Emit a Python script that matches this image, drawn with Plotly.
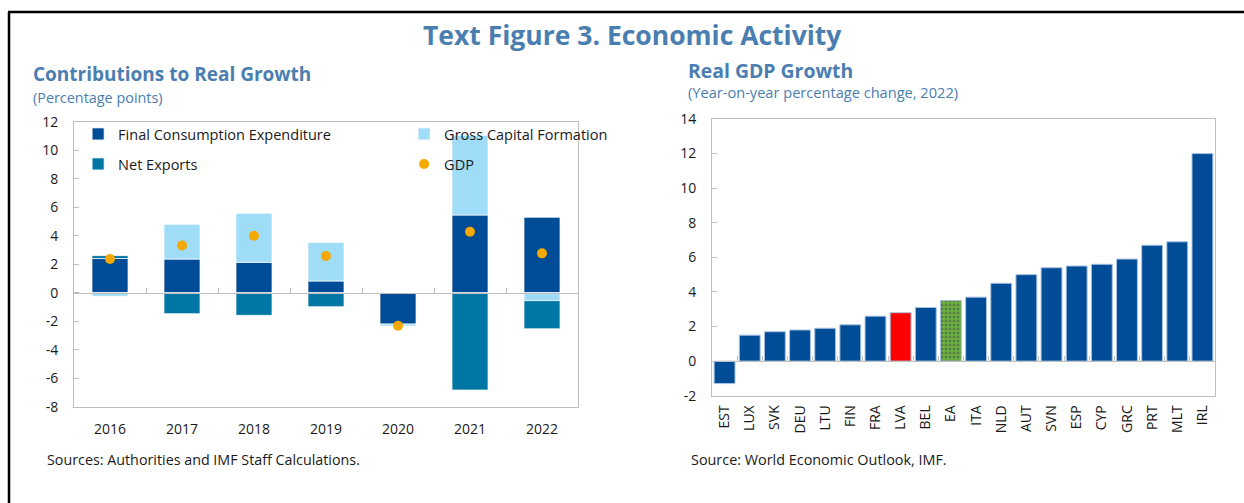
import plotly.graph_objects as go

# ---- Contributions to real growth (percentage points) ----
years = ["2016", "2017", "2018", "2019", "2020", "2021", "2022"]
final_consumption = [2.40, 2.36, 2.13, 0.82, -2.20, 5.45, 5.29]
gross_capital = [-0.25, 2.44, 3.44, 2.71, -0.14, 5.60, -0.56]
net_exports = [0.20, -1.47, -1.59, -0.98, 0.00, -6.83, -1.97]
gdp = [2.36, 3.32, 4.00, 2.57, -2.32, 4.28, 2.76]

# ---- Real GDP growth 2022, year-on-year (%) ----
countries = ["EST", "LUX", "SVK", "DEU", "LTU", "FIN", "FRA", "LVA", "BEL", "EA",
             "ITA", "NLD", "AUT", "SVN", "ESP", "CYP", "GRC", "PRT", "MLT", "IRL"]
growth_2022 = [-1.3, 1.5, 1.7, 1.8, 1.9, 2.1, 2.6, 2.8, 3.1, 3.5,
               3.7, 4.5, 5.0, 5.4, 5.5, 5.6, 5.9, 6.7, 6.9, 12.0]

left_yticks = [-8, -6, -4, -2, 0, 2, 4, 6, 8, 10, 12]
right_yticks = [-2, 0, 2, 4, 6, 8, 10, 12, 14]

W, H = 1244, 503
BLUE_TITLE = "#4A7EB0"
DARK_BLUE = "#004C97"
LIGHT_BLUE = "#9EDCF8"
TEAL = "#0076A5"
ORANGE = "#F5A800"
GREEN = "#6CB33F"
FRAME = "#BFBFBF"
TEXT = "#1a1a1a"
FONT = "Open Sans"

# plot-area domains (paper fractions)
lx0, lx1 = 74 / W, 578 / W
ly0, ly1 = 1 - 406.7 / H, 1 - 121.7 / H
rx0, rx1 = 712 / W, 1215 / W
ry0, ry1 = 1 - 395.7 / H, 1 - 119 / H

lrange = [-8, 12]
rrange = [-2, 14]

fig = go.Figure()

bar_edge = dict(color="rgba(255,255,255,0.7)", width=1)
fig.add_trace(go.Bar(x=years, y=final_consumption, name="Final Consumption Expenditure",
                     marker=dict(color=DARK_BLUE, line=bar_edge), width=0.5,
                     xaxis="x", yaxis="y", legend="legend"))
fig.add_trace(go.Bar(x=years, y=gross_capital, name="Gross Capital Formation",
                     marker=dict(color=LIGHT_BLUE, line=bar_edge), width=0.5,
                     xaxis="x", yaxis="y", legend="legend"))
fig.add_trace(go.Bar(x=years, y=net_exports, name="Net Exports",
                     marker=dict(color=TEAL, line=bar_edge), width=0.5,
                     xaxis="x", yaxis="y", legend="legend2"))
fig.add_trace(go.Scatter(x=years, y=gdp, name="GDP", mode="markers",
                         marker=dict(color=ORANGE, size=10),
                         xaxis="x", yaxis="y", legend="legend2"))

# country bars: Latvia highlighted in red, euro area with a dotted green fill
colors, shapes = [], []
for c in countries:
    if c == "LVA":
        colors.append("#FF0000")
        shapes.append("")
    elif c == "EA":
        colors.append(GREEN)
        shapes.append(".")
    else:
        colors.append(DARK_BLUE)
        shapes.append("")

fig.add_trace(go.Bar(x=countries, y=growth_2022, showlegend=False,
                     marker=dict(color=colors,
                                 line=dict(color="#A9C3E2", width=1),
                                 pattern=dict(shape=shapes, fgcolor="white",
                                              size=4, solidity=0.4,
                                              fillmode="overlay")),
                     width=0.83, xaxis="x2", yaxis="y2"))

# invisible helpers so the zero-line axes are rendered
fig.add_trace(go.Scatter(x=[0], y=[0], mode="markers", marker=dict(opacity=0),
                         showlegend=False, hoverinfo="skip", xaxis="x3", yaxis="y"))
fig.add_trace(go.Scatter(x=[0], y=[0], mode="markers", marker=dict(opacity=0),
                         showlegend=False, hoverinfo="skip", xaxis="x4", yaxis="y2"))

tick_font = dict(family=FONT, size=14, color=TEXT)
axis_common = dict(showline=True, linecolor=FRAME, linewidth=1, mirror=True,
                   showgrid=False, zeroline=False, tickfont=tick_font, automargin=False)

lzero = ly0 + (0 - lrange[0]) / (lrange[1] - lrange[0]) * (ly1 - ly0)
rzero = ry0 + (0 - rrange[0]) / (rrange[1] - rrange[0]) * (ry1 - ry0)

zero_axis = dict(showline=True, linecolor=FRAME, linewidth=1, ticks="inside", ticklen=5,
                 tickcolor=FRAME, showticklabels=False, showgrid=False, zeroline=False,
                 automargin=False, anchor="free")

legend_common = dict(orientation="h", xanchor="left", yanchor="middle",
                     entrywidth=281, entrywidthmode="pixels", itemwidth=30,
                     bgcolor="rgba(0,0,0,0)", font=dict(family=FONT, size=14.5, color=TEXT),
                     itemclick=False, traceorder="normal")

fig.update_layout(
    width=W, height=H,
    margin=dict(l=0, r=0, t=0, b=0, pad=0, autoexpand=False),
    paper_bgcolor="white", plot_bgcolor="white",
    barmode="relative",
    font=dict(family=FONT, color=TEXT),
    xaxis=dict(domain=[lx0, lx1], anchor="y", type="category", ticks="",
               ticklabelstandoff=9, **axis_common),
    yaxis=dict(domain=[ly0, ly1], anchor="x", range=lrange, tickvals=left_yticks,
               ticktext=[str(v) for v in left_yticks],
               ticks="inside", ticklen=5, tickcolor=FRAME, ticklabelstandoff=12,
               **axis_common),
    xaxis2=dict(domain=[rx0, rx1], anchor="y2", type="category", ticks="",
                tickangle=-90, ticklabelstandoff=3, **axis_common),
    yaxis2=dict(domain=[ry0, ry1], anchor="x2", range=rrange, tickvals=right_yticks,
                ticktext=[str(v) for v in right_yticks],
                ticks="inside", ticklen=5, tickcolor=FRAME, ticklabelstandoff=12,
                **axis_common),
    # zero lines carrying the category separators
    xaxis3=dict(overlaying="x", position=lzero, domain=[lx0, lx1],
                range=[-0.5, len(years) - 0.5],
                tickvals=[i + 0.5 for i in range(len(years) - 1)], **zero_axis),
    xaxis4=dict(overlaying="x2", position=rzero, domain=[rx0, rx1],
                range=[-0.5, len(countries) - 0.5],
                tickvals=[i + 0.5 for i in range(len(countries) - 1)], **zero_axis),
    legend=dict(x=0.0628, y=1 - 134 / H, **legend_common),
    legend2=dict(x=0.0628, y=1 - 164 / H, **legend_common),
    showlegend=True,
)

annotations = [
    dict(text="<b>Text Figure 3. Economic Activity</b>", x=632 / W, y=1 - 35 / H,
         font=dict(family=FONT, size=26.5, color=BLUE_TITLE)),
    dict(text="<b>Contributions to Real Growth</b>", x=31 / W, y=1 - 74 / H, xanchor="left",
         font=dict(family=FONT, size=19, color=BLUE_TITLE)),
    dict(text="(Percentage points)", x=31 / W, y=1 - 97 / H, xanchor="left",
         font=dict(family=FONT, size=14.4, color=BLUE_TITLE)),
    dict(text="<b>Real GDP Growth</b>", x=686 / W, y=1 - 70 / H, xanchor="left",
         font=dict(family=FONT, size=19.4, color=BLUE_TITLE)),
    dict(text="(Year-on-year percentage change, 2022)", x=686 / W, y=1 - 92 / H,
         xanchor="left", font=dict(family=FONT, size=14.6, color=BLUE_TITLE)),
    dict(text="Sources: Authorities and IMF Staff Calculations.", x=45 / W, y=1 - 459 / H,
         xanchor="left", font=dict(family=FONT, size=14.3, color=TEXT)),
    dict(text="Source: World Economic Outlook, IMF.", x=689 / W, y=1 - 459 / H,
         xanchor="left", font=dict(family=FONT, size=14.4, color=TEXT)),
]
for a in annotations:
    a.update(xref="paper", yref="paper", showarrow=False, yanchor="middle")
    a.setdefault("xanchor", "center")
fig.update_layout(annotations=annotations)

# outer frame (top and left edges)
fig.add_shape(type="line", xref="paper", yref="paper", x0=8 / W, x1=1, y0=1 - 12 / H,
              y1=1 - 12 / H, line=dict(color="black", width=2.5))
fig.add_shape(type="line", xref="paper", yref="paper", x0=9 / W, x1=9 / W, y0=0,
              y1=1 - 12 / H, line=dict(color="black", width=2.5))

fig.write_html("out.html")
